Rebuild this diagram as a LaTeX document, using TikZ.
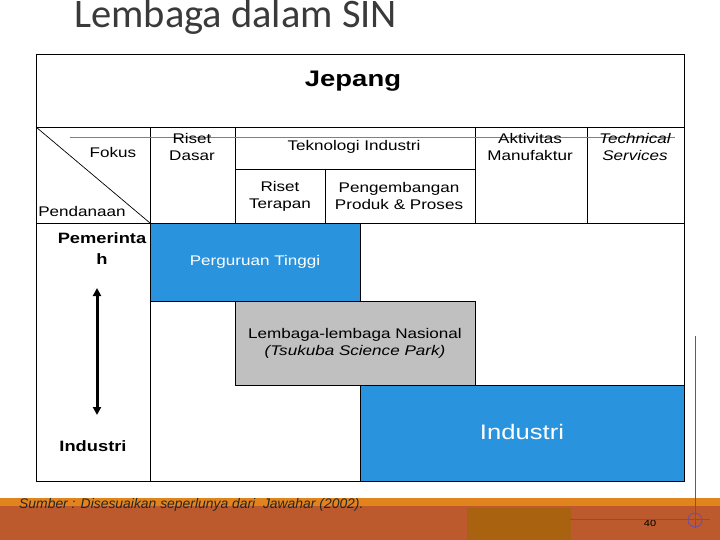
\documentclass[tikz,border=0pt]{standalone}
\usepackage{fontspec}
\setmainfont{Liberation Sans}[FakeStretch=1.22]
\newfontfamily\titlefont{Carlito}
\newfontfamily\srcfont{Liberation Sans}
\usepackage{tikz}
\usetikzlibrary{positioning,arrows.meta}
\usepackage{xcolor}
\definecolor{sinblue}{RGB}{41,147,222}
\definecolor{singray}{RGB}{192,192,192}
\definecolor{bandorange}{RGB}{226,132,30}
\definecolor{bandbrown}{RGB}{188,90,46}
\definecolor{banddark}{RGB}{168,98,16}
\definecolor{guide}{RGB}{95,75,190}
\definecolor{titlegray}{RGB}{58,58,58}

\begin{document}
\begin{tikzpicture}[
    x=1pt, y=-1pt,
    grid/.style={draw=black, line width=0.9pt},
    label/.style={align=center, font=\fontsize{14}{17}\selectfont, inner sep=0pt},
    boldlabel/.style={label, font=\fontsize{15}{21}\selectfont\bfseries},
    inbox/.style={label, text=white},
    arrow/.style={{Triangle[length=8pt,width=8pt]}-{Triangle[length=8pt,width=8pt]}, line width=3pt}
]
    \useasboundingbox (0,0) rectangle (720,540);

    % Title
    \node[anchor=base west, inner sep=0pt, text=titlegray, font=\titlefont\fontsize{40.5}{40}\selectfont] (title) at (74,28) {Lembaga dalam SIN};

    % Bottom band
    \fill[bandorange] (0,498) rectangle (720,506);
    \fill[bandbrown] (0,506) rectangle (720,540);
    \fill[banddark] (467,508) rectangle (571,540);

    % Coloured blocks
    \filldraw[fill=sinblue, draw=black, line width=0.8pt] (150,223) rectangle (360,301);
    \filldraw[fill=singray, draw=black, line width=0.8pt] (235,301) rectangle (475,385);
    \filldraw[fill=sinblue, draw=black, line width=0.8pt] (360,385) rectangle (684,481);

    % Table lines
    \draw[grid] (36,54) rectangle (684,481);
    \draw[grid] (36,127) -- (684,127);
    \draw[grid] (36,223) -- (684,223);
    \draw[grid] (150,127) -- (150,481);
    \draw[grid] (235,127) -- (235,223);
    \draw[grid] (235,169) -- (475,169);
    \draw[grid] (325,169) -- (325,223);
    \draw[grid] (475,127) -- (475,223);
    \draw[grid] (587,127) -- (587,223);
    \draw[line width=0.7pt] (36,127) -- (150,223);
    \draw[gray, line width=0.8pt] (70,137) -- (675,137);

    % Header
    \node[label, anchor=base, font=\fontsize{22.5}{24}\selectfont\bfseries] (jepang) at (353,87) {Jepang};
    \node[label] (fokus) at (113,152) {Fokus};
    \node[label] (pendanaan) at (82,211) {Pendanaan};
    \node[label] (dasar) at (192,147) {Riset\\Dasar};
    \node[label] (tekind) at (354,147) {Teknologi Industri};
    \node[label] (terapan) at (280,196) {Riset\\Terapan};
    \node[label] (produk) at (399,196) {Pengembangan\\Produk \& Proses};
    \node[label] (manuf) at (530,147) {Aktivitas\\Manufaktur};
    \node[label, font=\fontsize{14}{17}\selectfont\itshape] (techserv) at (635,147) {Technical\\Services};

    % Body
    \node[boldlabel] (pemerintah) at (102,249) {Pemerinta\\h};
    \node[boldlabel] (industrikiri) at (93,446) {Industri};
    \coordinate (armtop) at (97,288);
    \coordinate (armbot) at (97,415);
    \draw[arrow] (armtop) -- (armbot);

    \node[inbox] (pt) at (255,262) {Perguruan Tinggi};
    \node[label] (nasional) at (355,343) {Lembaga-lembaga Nasional\\\itshape(Tsukuba Science Park)};
    \node[inbox, font=\fontsize{21}{24}\selectfont] (industri) at (522,432) {Industri};

    % Source and page
    \node[anchor=west, inner sep=0pt, text=black!85, font=\srcfont\itshape\fontsize{13.9}{15}\selectfont] (sumber) at (19,505) {Sumber : Disesuaikan seperlunya dari\ \ Jawahar (2002).};
    \node[inner sep=0pt, font=\fontsize{9}{10}\selectfont] (hal) at (650,523) {40};

    % Guides
    \coordinate (gtop) at (695,336);
    \coordinate (gbot) at (695,528);
    \coordinate (gleft) at (570,519);
    \coordinate (gright) at (710,519);
    \draw[guide, line width=0.7pt] (gtop) -- (gbot);
    \draw[guide, line width=0.7pt] (gleft) -- (gright);
    \draw[guide, line width=0.7pt] (695,520) circle (7);
\end{tikzpicture}
\end{document}
